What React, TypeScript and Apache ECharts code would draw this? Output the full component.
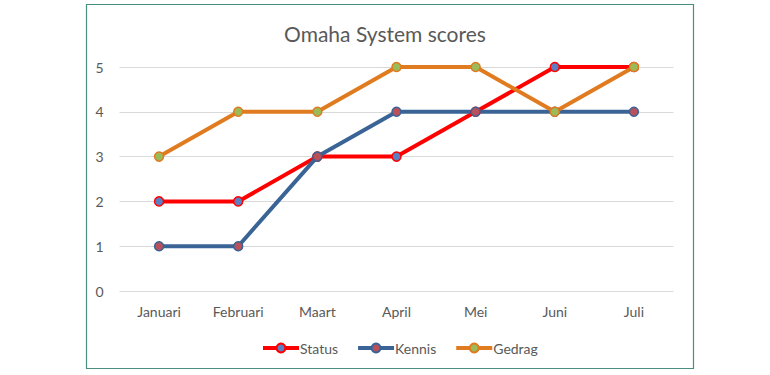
import React, { useEffect, useRef } from "react";
import * as echarts from "echarts";

const months = ["Januari", "Februari", "Maart", "April", "Mei", "Juni", "Juli"];
const statusValues = [2, 2, 3, 3, 4, 5, 5];
const kennisValues = [1, 1, 3, 4, 4, 4, 4];
const gedragValues = [3, 4, 4, 5, 5, 4, 5];
const yTicks = { min: 0, max: 5, interval: 1 };

const FONT = "Lato, 'Open Sans', sans-serif";
const TEXT = "#595959";

function mkSeries(name: string, data: number[], line: string, fill: string) {
  return {
    name,
    type: "line",
    data,
    symbol: "circle",
    symbolSize: 9,
    lineStyle: { color: line, width: 4 },
    itemStyle: { color: fill, borderColor: line, borderWidth: 1.5 },
    emphasis: { disabled: true },
  };
}

export default function App() {
  const ref = useRef<HTMLDivElement>(null);
  useEffect(() => {
    if (!ref.current) return;
    const chart = echarts.init(ref.current, null, { renderer: "svg" });
    chart.setOption({
      animation: false,
      backgroundColor: "#ffffff",
      title: {
        text: "Omaha System scores",
        left: "center",
        top: 18,
        textStyle: { fontFamily: FONT, fontSize: 21, fontWeight: "normal", color: TEXT },
      },
      graphic: [
        {
          type: "rect",
          shape: { x: 86.5, y: 4.5, width: 607, height: 364 },
          style: { fill: "none", stroke: "#4a8f7e", lineWidth: 1.2 },
          silent: true,
        },
      ],
      grid: { left: 119.5, right: 96.5, top: 67, bottom: 84, containLabel: false },
      xAxis: {
        type: "category",
        data: months,
        boundaryGap: true,
        axisLine: { show: false },
        axisTick: { show: false },
        axisLabel: { color: TEXT, fontFamily: FONT, fontSize: 14, margin: 13 },
      },
      yAxis: {
        type: "value",
        min: yTicks.min,
        max: yTicks.max,
        interval: yTicks.interval,
        axisLine: { show: false },
        axisTick: { show: false },
        axisLabel: { color: TEXT, fontFamily: FONT, fontSize: 14, margin: 16 },
        splitLine: { lineStyle: { color: "#d9d9d9", width: 1 } },
      },
      legend: {
        bottom: 15,
        left: 256,
        itemWidth: 36,
        itemHeight: 11,
        itemGap: 18,
        lineStyle: { width: 4 },
        textStyle: { color: TEXT, fontFamily: FONT, fontSize: 14, padding: [0, 0, 0, -4] },
        data: ["Status", "Kennis", "Gedrag"],
      },
      series: [
        mkSeries("Status", statusValues, "#ff0000", "#5b80c2"),
        mkSeries("Kennis", kennisValues, "#3a6496", "#b9505a"),
        mkSeries("Gedrag", gedragValues, "#e07b1f", "#9bbb59"),
      ],
    });
    return () => chart.dispose();
  }, []);
  return (
    <div
      ref={ref}
      style={{ position: "fixed", left: 0, top: 0, width: 770, height: 375 }}
    />
  );
}
